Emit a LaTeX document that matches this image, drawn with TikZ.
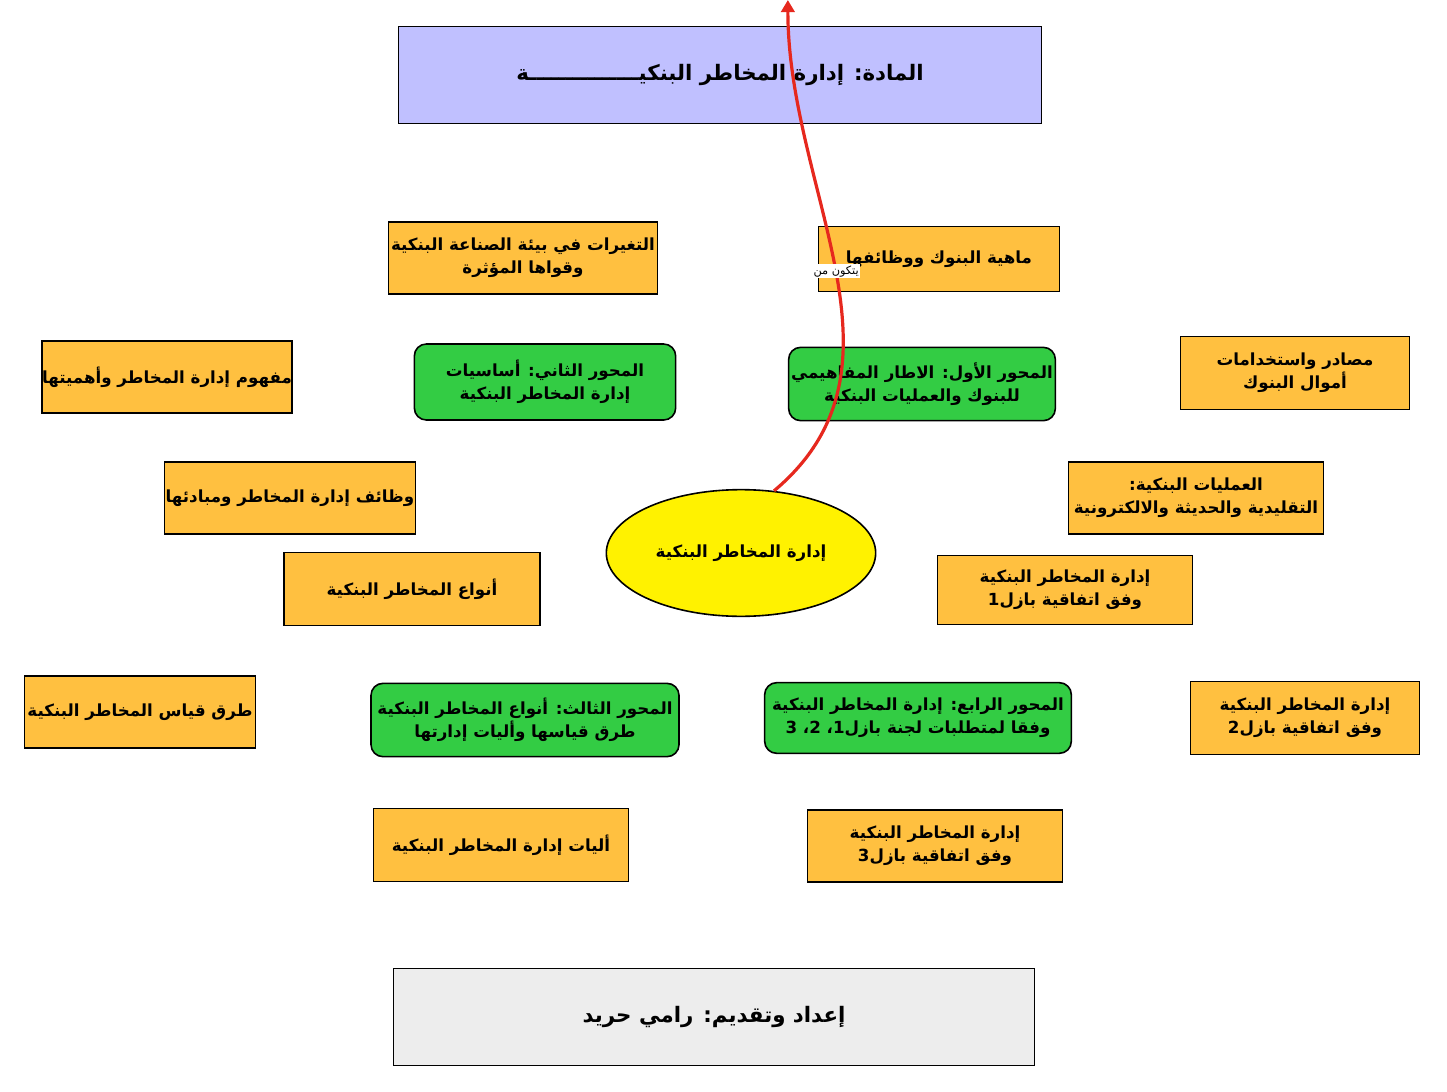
\documentclass[tikz,border=0pt]{standalone}
\usepackage{fontspec}
\newfontfamily\arabicfont[Script=Arabic]{DejaVu Sans}
\TeXXeTstate=1
\usetikzlibrary{arrows.meta,shapes.geometric}
\newcommand{\ar}[1]{\beginR #1\endR}
\definecolor{lav}{RGB}{192,192,255}
\definecolor{org}{RGB}{255,192,64}
\definecolor{grn}{RGB}{51,204,68}
\definecolor{rd}{RGB}{230,40,30}
\tikzset{
 box/.style={draw=black,line width=1.2pt,align=center,font=\arabicfont\bfseries\fontsize{12.5}{17}\selectfont,inner sep=0pt},
 obox/.style={box,fill=org},
 gbox/.style={box,fill=grn,rounded corners=9pt},
 conn/.style={draw=rd,line width=2.4pt,-{Triangle[length=9pt,width=10pt]}},
 lbl/.style={fill=white,inner sep=1pt,font=\arabicfont\fontsize{8.5}{10}\selectfont,text=black}
}
\begin{document}
\begin{tikzpicture}[x=0.75pt,y=-0.75pt]
\useasboundingbox (0,0) rectangle (1447,1092);
\node[box,fill=lav,minimum width=482pt,minimum height=73pt,font=\arabicfont\bfseries\fontsize{16}{20}\selectfont] (T) at (720,75) {\ar{المادة: إدارة المخاطر البنكيـــــــــــــــة}};
\node[box,fill=black!7,minimum width=481pt,minimum height=73pt,font=\arabicfont\bfseries\fontsize{16}{20}\selectfont] (B) at (714,1017) {\ar{إعداد وتقديم: رامي حريد}};
\node[ellipse,draw=black,line width=1.2pt,fill=yellow,minimum width=202pt,minimum height=95pt,font=\arabicfont\bfseries\fontsize{12.5}{17}\selectfont] (E) at (741,553) {\ar{إدارة المخاطر البنكية}};
% green
\node[gbox,minimum width=200pt,minimum height=55pt] (G1) at (922,384) {\ar{المحور الأول: الاطار المفاهيمي}\\\ar{للبنوك والعمليات البنكية}};
\node[gbox,minimum width=196pt,minimum height=57pt] (G2) at (545,382) {\ar{المحور الثاني: أساسيات}\\\ar{إدارة المخاطر البنكية}};
\node[gbox,minimum width=231pt,minimum height=55pt] (G3) at (525,720) {\ar{المحور الثالث: أنواع المخاطر البنكية}\\\ar{طرق قياسها وأليات إدارتها}};
\node[gbox,minimum width=230pt,minimum height=53pt] (G4) at (918,718) {\ar{المحور الرابع: إدارة المخاطر البنكية}\\\ar{وفقا لمتطلبات لجنة بازل1، 2، 3}};
% orange
\node[obox,minimum width=181pt,minimum height=49pt] (O1) at (939,259) {\ar{ماهية البنوك ووظائفها}};
\node[obox,minimum width=172pt,minimum height=55pt] (O2) at (1295,373) {\ar{مصادر واستخدامات}\\\ar{أموال البنوك}};
\node[obox,minimum width=191pt,minimum height=54pt] (O3) at (1196,498) {\ar{العمليات البنكية:}\\\ar{التقليدية والحديثة والالكترونية}};
\node[obox,minimum width=202pt,minimum height=54pt] (O4) at (523,258) {\ar{التغيرات في بيئة الصناعة البنكية}\\\ar{وقواها المؤثرة}};
\node[obox,minimum width=187pt,minimum height=54pt] (O5) at (167,377) {\ar{مفهوم إدارة المخاطر وأهميتها}};
\node[obox,minimum width=188pt,minimum height=54pt] (O6) at (290,498) {\ar{وظائف إدارة المخاطر ومبادئها}};
\node[obox,minimum width=192pt,minimum height=55pt] (O7) at (412,589) {\ar{أنواع المخاطر البنكية}};
\node[obox,minimum width=173pt,minimum height=54pt] (O8) at (140,712) {\ar{طرق قياس المخاطر البنكية}};
\node[obox,minimum width=191pt,minimum height=55pt] (O9) at (501,845) {\ar{أليات إدارة المخاطر البنكية}};
\node[obox,minimum width=191pt,minimum height=52pt] (O10) at (1065,590) {\ar{إدارة المخاطر البنكية}\\\ar{وفق اتفاقية بازل1}};
\node[obox,minimum width=172pt,minimum height=55pt] (O11) at (1305,718) {\ar{إدارة المخاطر البنكية}\\\ar{وفق اتفاقية بازل2}};
\node[obox,minimum width=191pt,minimum height=54pt] (O12) at (935,846) {\ar{إدارة المخاطر البنكية}\\\ar{وفق اتفاقية بازل3}};
% ellipse -> axes
\draw[conn] (E.62) to[out=40,in=-90] node[lbl,pos=0.5]{\ar{يتكون من}} (G1.south west |- 0,0) ;
\end{tikzpicture}
\end{document}
